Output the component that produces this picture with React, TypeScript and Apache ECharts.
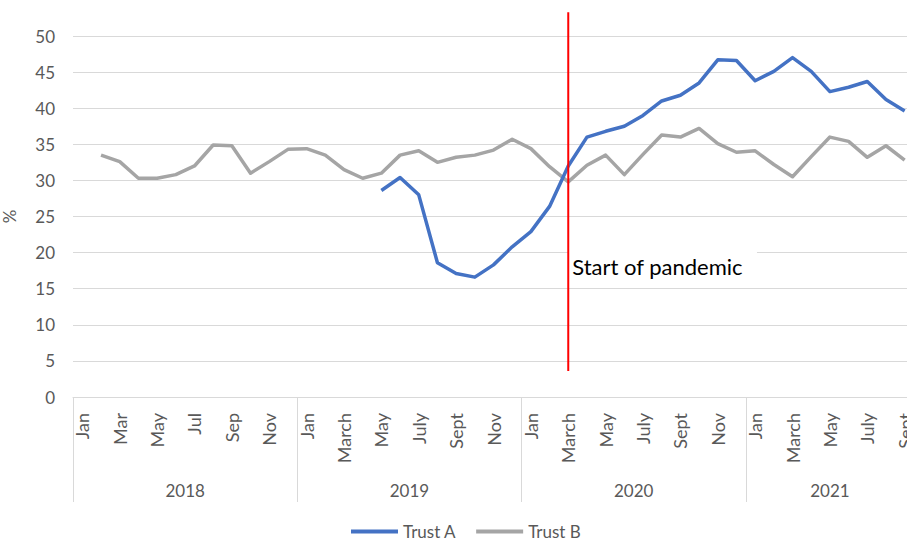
import React, { useEffect, useRef } from "react";
import * as echarts from "echarts";

const months2018 = ["Jan", "Feb", "Mar", "Apr", "May", "Jun", "Jul", "Aug", "Sep", "Oct", "Nov", "Dec"];
const monthsLater = ["Jan", "Feb", "March", "Apr", "May", "June", "July", "Aug", "Sept", "Oct", "Nov", "Dec"];
const years = ["2018", "2019", "2020", "2021"];
const monthsPerYear = [12, 12, 12, 9];

const trustA: (number | null)[] = [
  null, null, null, null, null, null, null, null, null, null, null, null,
  null, null, null, null, 28.6, 30.4, 28.0, 18.6, 17.1, 16.6, 18.3, 20.8,
  22.9, 26.4, 32.0, 36.0, 36.8, 37.5, 39.0, 41.0, 41.8, 43.5, 46.7, 46.6,
  43.8, 45.1, 47.0, 45.1, 42.3, 42.9, 43.7, 41.2, 39.6,
];
const trustB: (number | null)[] = [
  null, 33.5, 32.6, 30.3, 30.3, 30.8, 32.0, 34.9, 34.8, 31.0, 32.6, 34.3,
  34.4, 33.5, 31.5, 30.3, 31.0, 33.5, 34.1, 32.5, 33.2, 33.5, 34.2, 35.7,
  34.4, 31.9, 29.8, 32.1, 33.5, 30.8, 33.6, 36.3, 36.0, 37.2, 35.1, 33.9,
  34.1, 32.2, 30.5, 33.3, 36.0, 35.4, 33.2, 34.8, 32.8,
];

const pandemicIndex = 26; // March 2020
const pandemicLine = { from: 3.6, to: 53.3, labelAt: 18.1 };
const pandemicLabel = "Start of pandemic";

const FONT = "Lato, 'Noto Sans', sans-serif";
const TXT = "#595959";

export default function App() {
  const ref = useRef<HTMLDivElement>(null);
  useEffect(() => {
    if (!ref.current) return;
    const chart = echarts.init(ref.current, null, { renderer: "svg" });

    const categories: string[] = [];
    const yearStarts: number[] = [];
    const yearCenters: number[] = [];
    let acc = 0;
    years.forEach((y, i) => {
      yearStarts.push(acc);
      yearCenters.push(acc + monthsPerYear[i] / 2);
      const names = i === 0 ? months2018 : monthsLater;
      for (let m = 0; m < monthsPerYear[i]; m++) categories.push(names[m]);
      acc += monthsPerYear[i];
    });

    chart.setOption({
      animation: false,
      backgroundColor: "#ffffff",
      textStyle: { fontFamily: FONT },
      grid: {
        left: 73,
        right: -7,
        top: 36,
        bottom: 144,
        containLabel: false,
        outerBoundsMode: "none",
      },
      legend: {
        data: ["Trust A", "Trust B"],
        left: 351,
        top: 523,
        padding: 0,
        icon: "rect",
        itemWidth: 47,
        itemHeight: 4,
        itemGap: 20,
        textStyle: { color: TXT, fontSize: 17, fontFamily: FONT },
      },
      xAxis: [
        {
          type: "category",
          data: categories,
          boundaryGap: true,
          axisLine: { show: true, lineStyle: { color: "#d9d9d9", width: 1 } },
          axisTick: { show: false },
          axisLabel: {
            interval: 1,
            rotate: 90,
            margin: 16,
            color: TXT,
            fontSize: 18,
            fontFamily: FONT,
          },
          splitLine: { show: false },
        },
        {
          type: "value",
          min: 0,
          max: acc,
          position: "bottom",
          axisLine: { show: false },
          splitLine: { show: false },
          axisTick: {
            show: true,
            customValues: yearStarts,
            length: 105,
            lineStyle: { color: "#d9d9d9", width: 1 },
          },
          axisLabel: {
            customValues: yearCenters,
            margin: 85,
            color: TXT,
            fontSize: 17,
            fontFamily: FONT,
            formatter: (v: number) => {
              const i = yearCenters.indexOf(v);
              return i >= 0 ? years[i] : "";
            },
          },
        },
      ],
      yAxis: {
        type: "value",
        min: 0,
        max: 50,
        interval: 5,
        name: "%",
        nameLocation: "middle",
        nameGap: 55,
        nameRotate: 90,
        nameTextStyle: { color: TXT, fontSize: 17, fontFamily: FONT },
        axisLine: { show: false },
        axisTick: { show: false },
        axisLabel: { color: TXT, fontSize: 17, margin: 18, fontFamily: FONT },
        splitLine: { lineStyle: { color: "#d9d9d9", width: 1 } },
      },
      series: [
        {
          name: "Trust B",
          type: "line",
          data: trustB,
          symbol: "none",
          connectNulls: false,
          lineStyle: { color: "#A5A5A5", width: 3.5, join: "round" },
          itemStyle: { color: "#A5A5A5" },
        },
        {
          name: "Trust A",
          type: "line",
          data: trustA,
          symbol: "none",
          connectNulls: false,
          lineStyle: { color: "#4472C4", width: 3.5, join: "round" },
          itemStyle: { color: "#4472C4" },
        },
        {
          type: "custom",
          clip: false,
          z: 5,
          data: [[pandemicIndex, pandemicLine.from, pandemicLine.to, pandemicLine.labelAt]],
          renderItem: (params: any, api: any) => {
            const x = api.value(0);
            const bottom = api.coord([x, api.value(1)]);
            const top = api.coord([x, api.value(2)]);
            const lab = api.coord([x, api.value(3)]);
            return {
              type: "group",
              children: [
                {
                  type: "text",
                  x: lab[0],
                  y: lab[1],
                  style: {
                    text: pandemicLabel,
                    fill: "#000000",
                    font: `22px ${FONT}`,
                    align: "left",
                    verticalAlign: "middle",
                    backgroundColor: "#ffffff",
                    padding: [9, 14, 9, 4],
                  },
                },
                {
                  type: "line",
                  shape: { x1: top[0], y1: top[1], x2: bottom[0], y2: bottom[1] },
                  style: { stroke: "#ff0000", lineWidth: 2 },
                },
              ],
            };
          },
        },
      ],
    });
    return () => chart.dispose();
  }, []);
  return (
    <div
      ref={ref}
      style={{ position: "absolute", left: 0, top: 0, width: 907, height: 541 }}
    />
  );
}
